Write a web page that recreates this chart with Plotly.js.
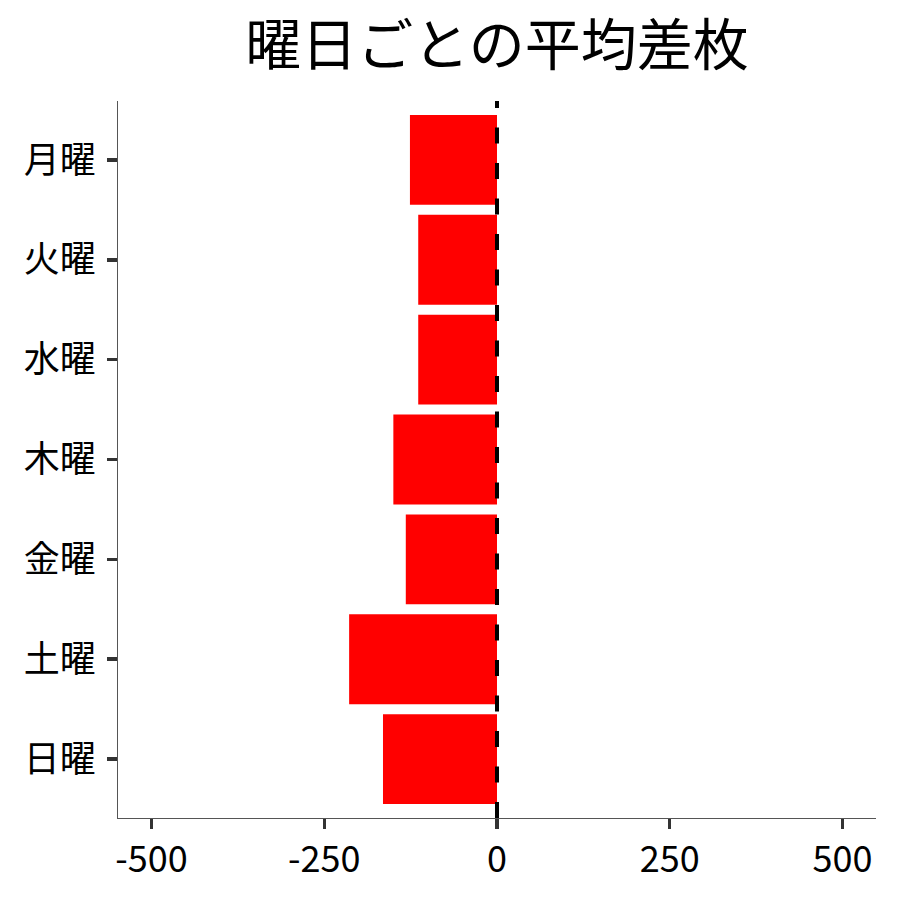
<!DOCTYPE html>
<html>
<head>
<meta charset="utf-8">
<script src="https://cdn.plot.ly/plotly-3.0.1.min.js"></script>
<style>
  html, body { margin: 0; padding: 0; background: #fff; }
  #chart { width: 900px; height: 900px; }
</style>
</head>
<body>
<div id="chart"></div>
<script>
// 曜日ごとの平均差枚
var days = ['月曜', '火曜', '水曜', '木曜', '金曜', '土曜', '日曜'];
var avgDiff = [-126, -114, -114, -150, -132, -214, -165];
var xTicks = [-500, -250, 0, 250, 500];

var font = '"Noto Sans CJK JP", "Noto Sans", sans-serif';

var trace = {
    type: 'bar',
    orientation: 'h',
    y: days,
    x: avgDiff,
    width: 0.9,
    marker: { color: '#ff0000', line: { width: 0 } },
    hoverinfo: 'x+y',
    showlegend: false
};

var layout = {
    width: 900,
    height: 900,
    paper_bgcolor: '#fff',
    plot_bgcolor: '#fff',
    margin: { l: 118, r: 24, t: 101, b: 82 },
    font: { family: font, color: '#000' },
    title: {
        text: '曜日ごとの平均差枚',
        font: { family: font, size: 56, color: '#000' },
        x: 0.5, xref: 'paper', xanchor: 'center',
        y: 0.95, yref: 'container', yanchor: 'middle'
    },
    xaxis: {
        range: [-548.5, 548.5],
        tickvals: xTicks,
        ticktext: xTicks.map(String),
        showgrid: false,
        zeroline: false,
        showline: true,
        linecolor: '#555',
        linewidth: 1,
        ticks: 'outside',
        ticklen: 10,
        tickwidth: 3.5,
        tickcolor: '#333',
        tickfont: { family: font, size: 36, color: '#000' }
    },
    yaxis: {
        type: 'category',
        range: [6.59, -0.59],
        showgrid: false,
        zeroline: false,
        showline: true,
        linecolor: '#555',
        linewidth: 1,
        ticks: 'outside',
        ticklen: 10,
        tickwidth: 3.5,
        tickcolor: '#333',
        ticklabelstandoff: 4,
        tickfont: { family: font, size: 36, color: '#000' }
    },
    shapes: [{
        type: 'line',
        xref: 'x', yref: 'paper',
        x0: 0, x1: 0, y0: 0, y1: 1,
        line: { color: '#000', width: 4, dash: '16px,19.5px' },
        layer: 'above'
    }]
};

Plotly.newPlot('chart', [trace], layout, { displayModeBar: false, staticPlot: true });
</script>
</body>
</html>
